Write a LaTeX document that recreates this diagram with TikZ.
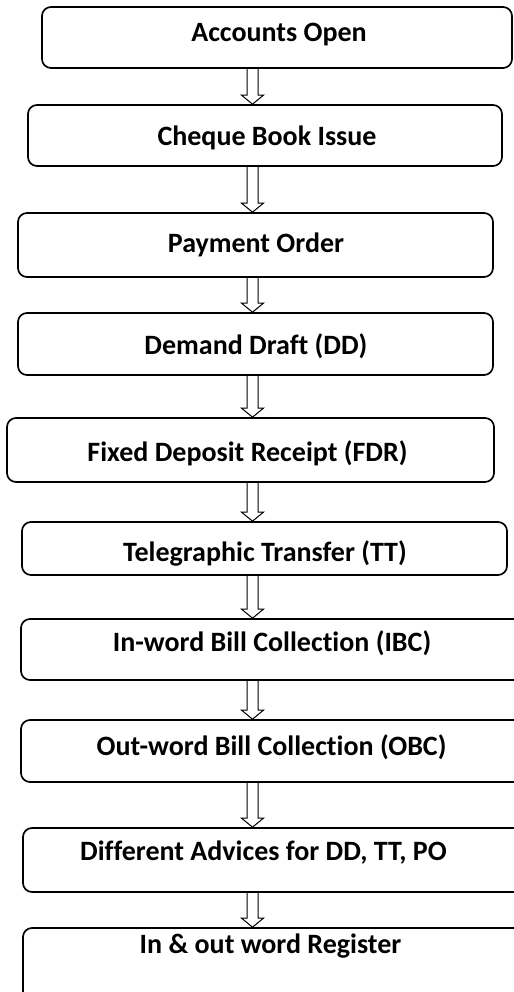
\documentclass[tikz,border=0pt]{standalone}
\usepackage{fontspec}
\setmainfont{Carlito}[Ligatures={NoCommon}]
\usetikzlibrary{calc}
\newcommand{\boxtext}[3]{\raisebox{-#2bp}{\makebox[0pt][c]{\hspace*{#1bp}\hspace*{#1bp}#3}}}
\tikzset{
  box/.style={draw=black, line width=1.7bp, rounded corners=9bp, inner sep=0pt,
    font=\fontsize{28bp}{32bp}\selectfont\bfseries, text height=18bp, text depth=0bp},
  hollow/.style={draw=black, line width=1bp, to path={
    let \p1=(\tikztostart), \p2=(\tikztotarget) in
    (\x1-5.5bp,\y1) -- (\x1-5.5bp,\y2+9bp) -- (\x1-11bp,\y2+9bp) -- (\x1,\y2)
    -- (\x1+11bp,\y2+9bp) -- (\x1+5.5bp,\y2+9bp) -- (\x1+5.5bp,\y1)}}
}
\begin{document}
\begin{tikzpicture}[x=1bp,y=-1bp]
\useasboundingbox (0,0) rectangle (514,992);
\clip (0,0) rectangle (514,992);
\fill[white] (0,0) rectangle (514,992);
\coordinate (ax) at (252.5,0);
\node[box, minimum width=470bp, minimum height=61bp] (n1) at (277,37.5) {\boxtext{2}{-5.5}{Accounts Open}};
\node[box, minimum width=474bp, minimum height=61bp] (n2) at (265,135.5) {\boxtext{2}{1}{Cheque Book Issue}};
\node[box, minimum width=475bp, minimum height=64bp] (n3) at (255.5,245) {\boxtext{0.5}{-2}{Payment Order}};
\node[box, minimum width=475bp, minimum height=62bp] (n4) at (255.5,344) {\boxtext{0.5}{1}{Demand Draft (DD)}};
\node[box, minimum width=487bp, minimum height=64bp] (n5) at (250.5,450) {\boxtext{-3}{2}{Fixed Deposit Receipt (FDR)}};
\node[box, minimum width=485bp, minimum height=53bp] (n6) at (264.5,548.5) {\boxtext{0.5}{3.5}{Telegraphic Transfer (TT)}};
\node[box, minimum width=509bp, minimum height=61bp] (n7) at (275.5,649.5) {\boxtext{-3.5}{-7}{In-word Bill Collection (IBC)}};
\node[box, minimum width=509bp, minimum height=62bp] (n8) at (275.5,751) {\boxtext{-4}{-5}{Out-word Bill Collection (OBC)}};
\node[box, minimum width=507bp, minimum height=64bp] (n9) at (276.5,860) {\boxtext{-13}{-9}{Different Advices for DD, TT, PO}};
\node[box, minimum width=507bp, minimum height=82bp] (n10) at (276.5,969) {\boxtext{-6}{-25}{In \& out word Register}};
\foreach \a/\b in {n1/n2,n2/n3,n3/n4,n4/n5,n5/n6,n6/n7,n7/n8,n8/n9,n9/n10}
  \draw[hollow] (\a.south -| ax) to (\b.north -| ax);
\end{tikzpicture}
\end{document}
